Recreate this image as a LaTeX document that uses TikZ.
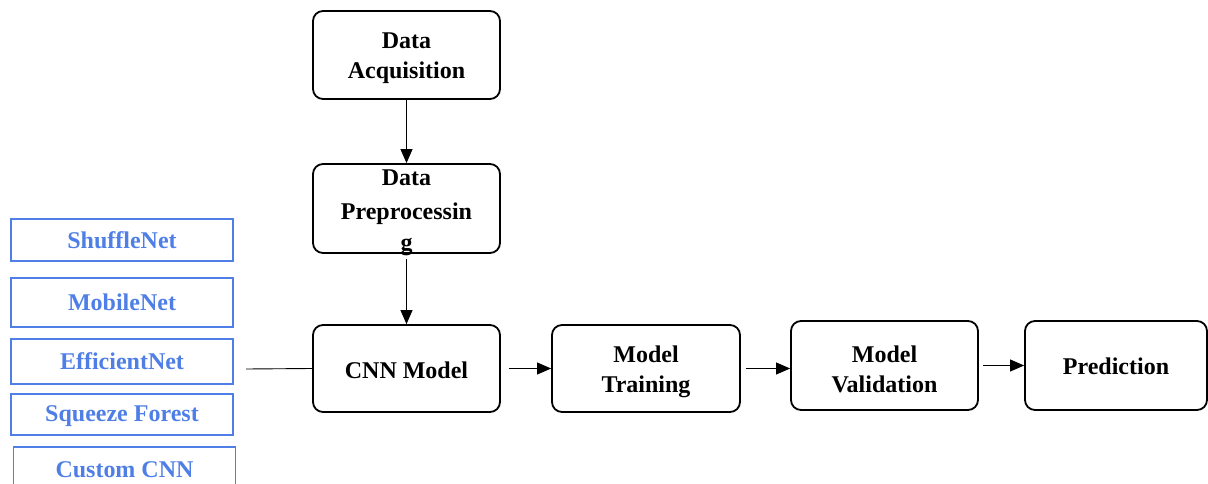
\documentclass[tikz,border=0pt]{standalone}
\usepackage{fontspec}
\setmainfont{Liberation Serif}
\usetikzlibrary{arrows.meta}
\definecolor{netblue}{HTML}{4F7FE6}
% invisible rule that adds height above the first line of a label
\newcommand\headroom[1]{\rule{0pt}{#1}}
\begin{document}
\begin{tikzpicture}[x=1pt,y=-1pt,
  stagefont/.style={font=\fontsize{24}{30}\selectfont\bfseries, align=center},
  stage/.style={draw=black, line width=1.8pt, rounded corners=10pt,
    minimum width=187pt, minimum height=88pt, inner sep=0pt, stagefont},
  net/.style={draw=netblue, line width=1.8pt, minimum width=222pt, inner sep=0pt,
    text=netblue, font=\fontsize{24}{28}\selectfont\bfseries},
  flow/.style={line width=0.9pt, -{Triangle[length=14pt,width=12pt]}}]
\useasboundingbox (0,0) rectangle (1208,484);

% pipeline stages
\node[stage] (acq) at (406.5,55) {\headroom{23pt}Data\\Acquisition};
\node[stage, minimum height=89pt,
  label={[stagefont, inner sep=0pt, yshift=-4pt]center:{Data\\[4pt]Preprocessin\\[1pt]g}}]
  (prep) at (406.5,208.5) {};
\node[stage, minimum height=87pt] (cnn) at (406.5,368.5) {\headroom{20pt}CNN Model};
\node[stage, minimum width=188pt, minimum height=87pt] (train) at (646,368.5) {\headroom{24pt}Model\\Training};
\node[stage, minimum height=89pt] (valid) at (884.5,365.5) {\headroom{24pt}Model\\Validation};
\node[stage, minimum width=182pt, minimum height=89pt] (pred) at (1116,365.5) {\headroom{19pt}Prediction};

% candidate networks
\node[net, minimum height=42pt] (shuffle) at (122,240) {ShuffleNet};
\node[net, minimum height=49pt] (mobile) at (122,302.5) {MobileNet};
\node[net, minimum height=45pt] (efficient) at (122,361.5) {EfficientNet};
\node[net, minimum height=41pt] (squeeze) at (122,414.5) {\headroom{20pt}Squeeze Forest};
\node[net, minimum height=46pt] (custom) at (124.5,470) {Custom CNN};

% connectors
\draw[flow] (acq.south) -- (prep.north);
\draw[flow] ([yshift=-5pt]prep.south) -- (cnn.north);
\draw[flow] ([xshift=8pt]cnn.east) -- (train.west);
\draw[flow] ([xshift=5pt]train.east) -- (train.east -| valid.west);
\draw[flow] ([xshift=4pt]valid.east) -- (pred.west);
\coordinate (tap) at (246,369);
\draw[line width=0.9pt] (tap) -- (cnn.west);
\end{tikzpicture}
\end{document}
